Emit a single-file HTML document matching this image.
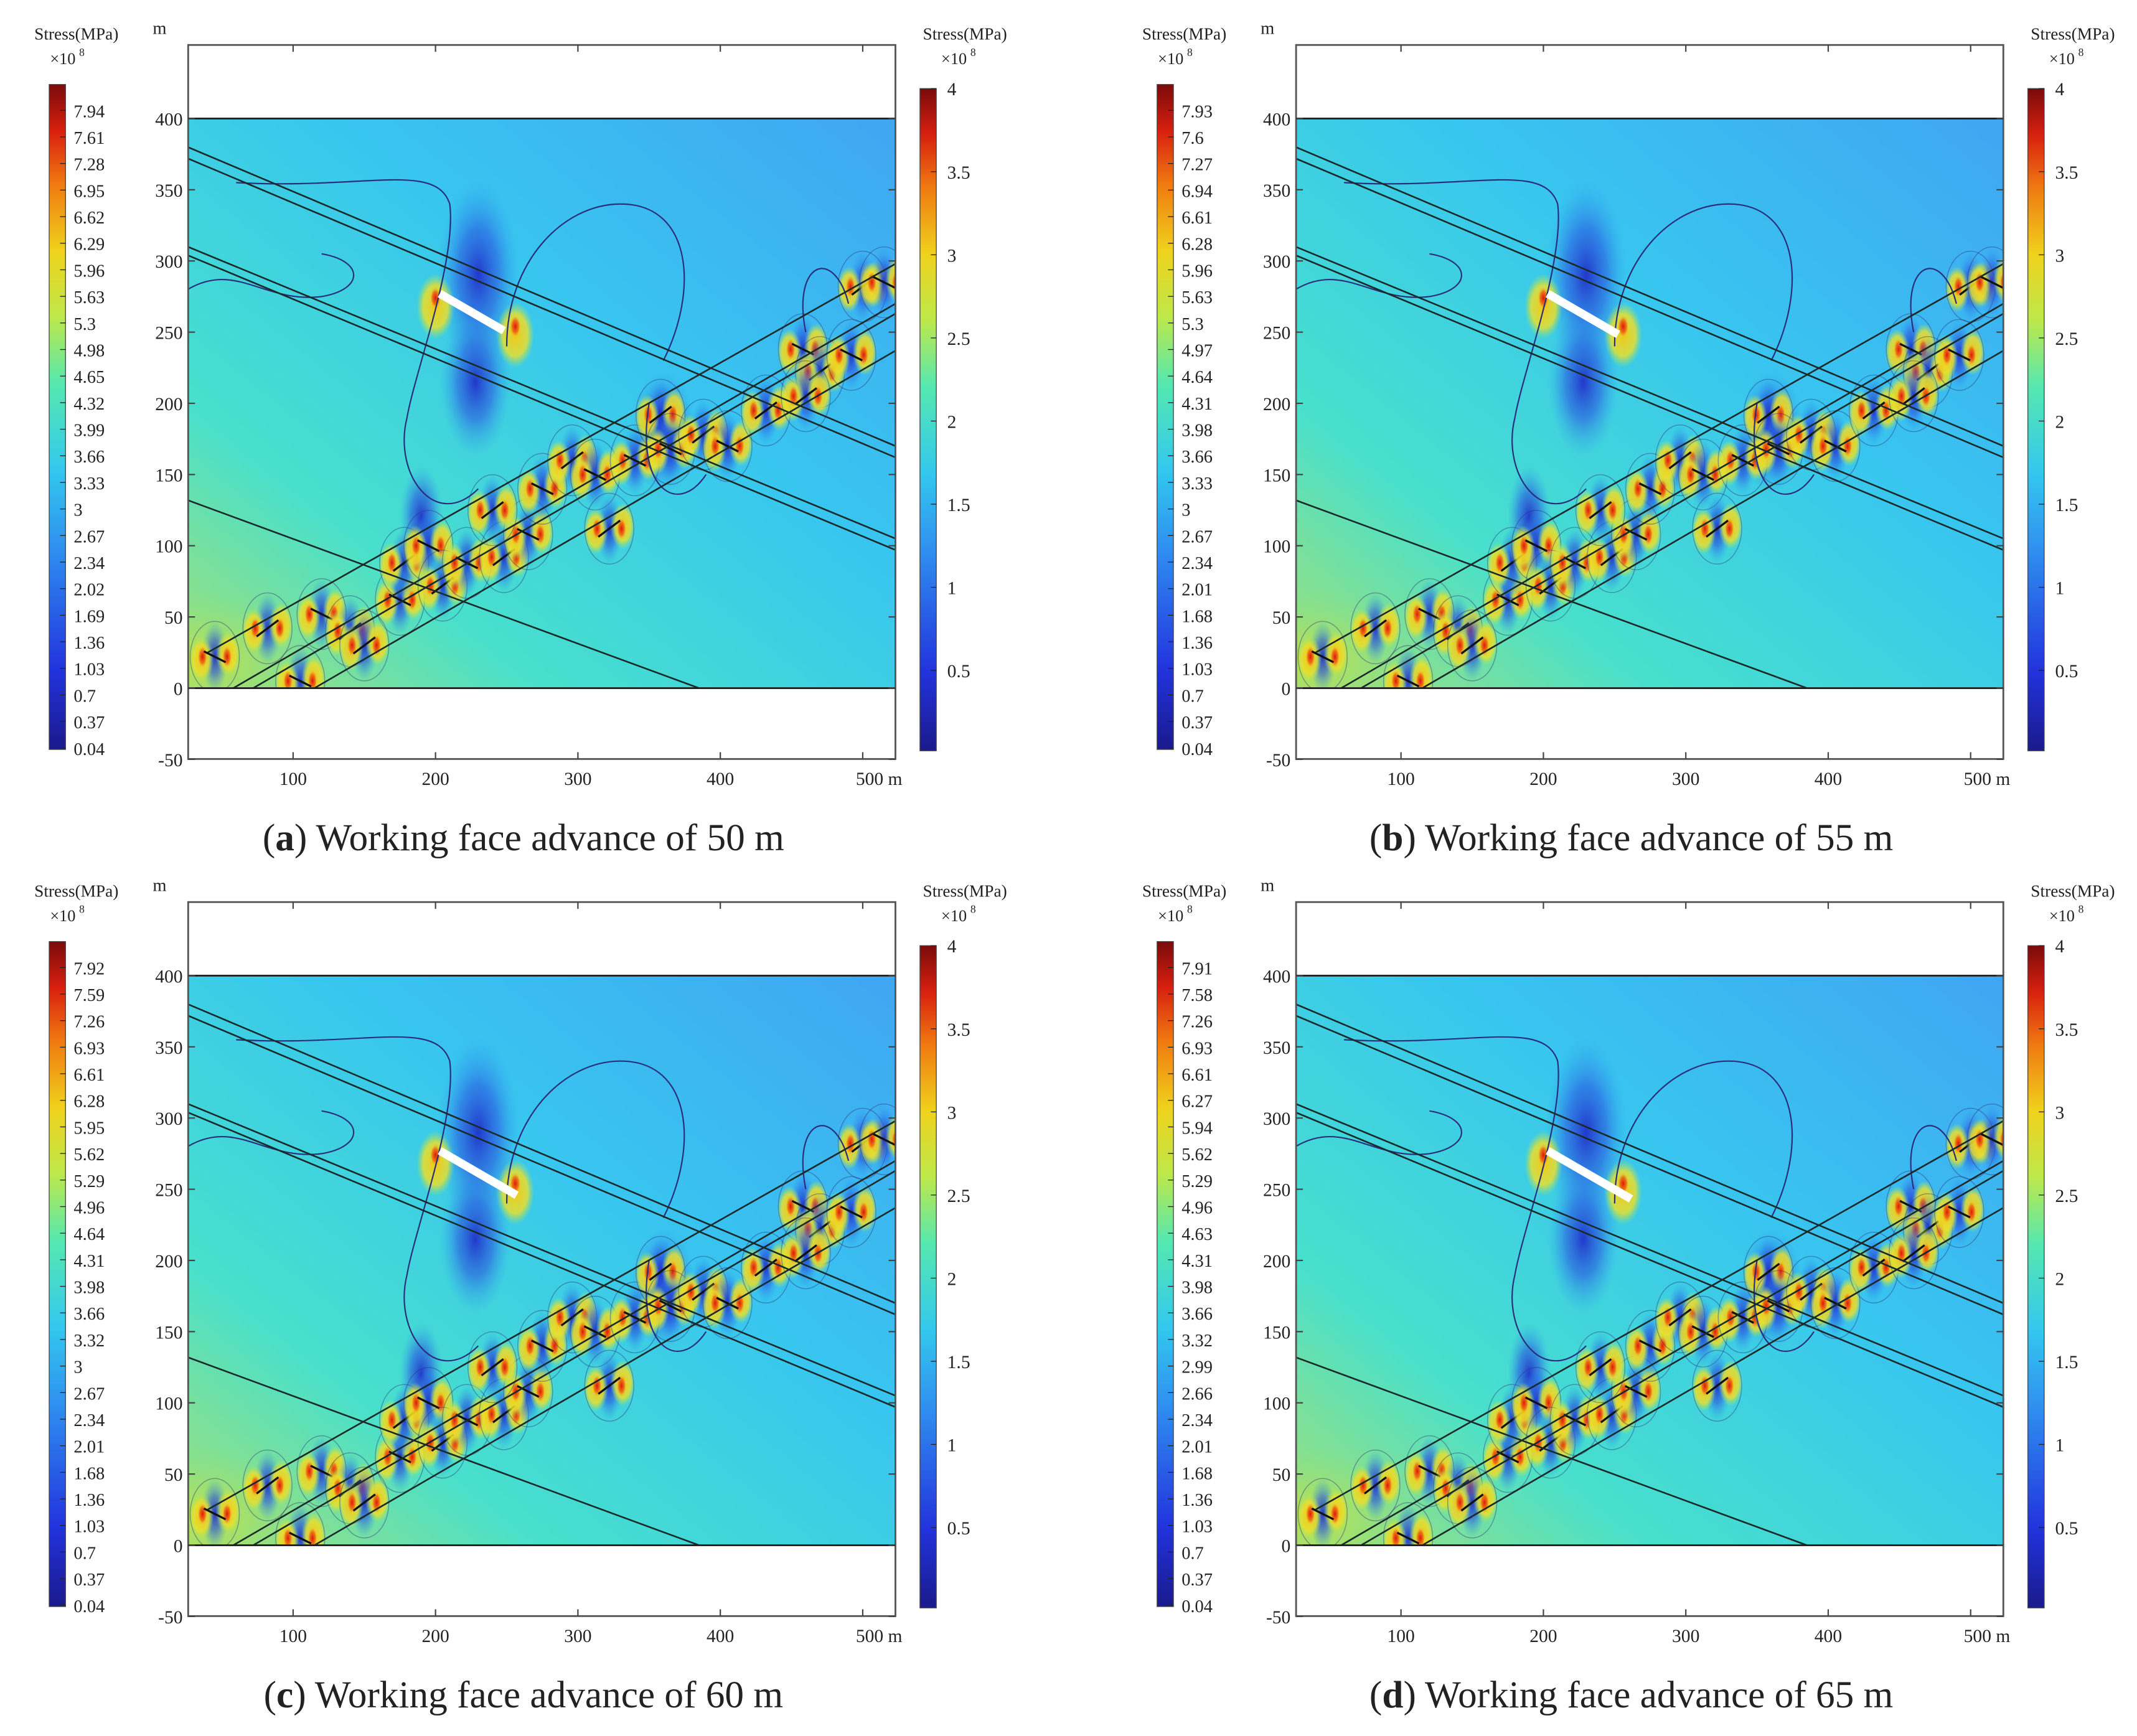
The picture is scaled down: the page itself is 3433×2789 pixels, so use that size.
<!DOCTYPE html>
<html><head><meta charset="utf-8">
<style>
html,body{margin:0;padding:0;background:#fff;}
svg{display:block;}
text{font-family:"Liberation Serif",serif;fill:#222;}
</style></head>
<body>
<svg id="fig" width="3433" height="2789" viewBox="0 0 1568 1274" xmlns="http://www.w3.org/2000/svg">
<defs>
<linearGradient id="jet" x1="0" y1="1" x2="0" y2="0">
<stop offset="0" stop-color="#1a1a8c"/><stop offset="0.12" stop-color="#2233dd"/><stop offset="0.3" stop-color="#2f8ef0"/><stop offset="0.42" stop-color="#33c8ee"/><stop offset="0.55" stop-color="#55e8b0"/><stop offset="0.65" stop-color="#bde84a"/><stop offset="0.75" stop-color="#f0d21c"/><stop offset="0.85" stop-color="#f07a10"/><stop offset="0.93" stop-color="#d8200f"/><stop offset="1" stop-color="#7a0a0a"/>
</linearGradient>
<linearGradient id="bg" x1="1" y1="0" x2="0" y2="1">
<stop offset="0" stop-color="#40a6f2"/><stop offset="0.4" stop-color="#38c6ef"/><stop offset="0.75" stop-color="#48e0cc"/><stop offset="1" stop-color="#a8e070"/>
</linearGradient>
<radialGradient id="gBlue"><stop offset="0" stop-color="#2030c8" stop-opacity="0.95"/><stop offset="0.5" stop-color="#2a5ae0" stop-opacity="0.6"/><stop offset="1" stop-color="#30a0f0" stop-opacity="0"/></radialGradient>
<radialGradient id="gYel"><stop offset="0" stop-color="#f2c818" stop-opacity="1"/><stop offset="0.65" stop-color="#e8e030" stop-opacity="0.85"/><stop offset="1" stop-color="#a0e860" stop-opacity="0"/></radialGradient>
<radialGradient id="gRed"><stop offset="0" stop-color="#d81a0c"/><stop offset="0.6" stop-color="#f06010" stop-opacity="0.8"/><stop offset="1" stop-color="#f0c020" stop-opacity="0"/></radialGradient>
<radialGradient id="gGrn"><stop offset="0" stop-color="#c8e040" stop-opacity="0.9"/><stop offset="1" stop-color="#70e0a0" stop-opacity="0"/></radialGradient>
</defs>
</svg>
<script>
const leftTicksA=[7.94,7.61,7.28,6.95,6.62,6.29,5.96,5.63,5.3,4.98,4.65,4.32,3.99,3.66,3.33,3,2.67,2.34,2.02,1.69,1.36,1.03,0.7,0.37,0.04];
const leftTicksB=[7.93,7.6,7.27,6.94,6.61,6.28,5.96,5.63,5.3,4.97,4.64,4.31,3.98,3.66,3.33,3,2.67,2.34,2.01,1.68,1.36,1.03,0.7,0.37,0.04];
const leftTicksC=[7.92,7.59,7.26,6.93,6.61,6.28,5.95,5.62,5.29,4.96,4.64,4.31,3.98,3.66,3.32,3,2.67,2.34,2.01,1.68,1.36,1.03,0.7,0.37,0.04];
const leftTicksD=[7.91,7.58,7.26,6.93,6.61,6.27,5.94,5.62,5.29,4.96,4.63,4.31,3.98,3.66,3.32,2.99,2.66,2.34,2.01,1.68,1.36,1.03,0.7,0.37,0.04];
const rightTicks=[4,3.5,3,2.5,2,1.5,1,0.5];
const xTicks=[100,200,300,400,500];
const yTicks=[400,350,300,250,200,150,100,50,0,-50];
const captionLetters=["a","b","c","d"];
const advances=[50,55,60,65];
const faceLen=[50,55,60,65];
const layerLines=[[26,380,523,170],[26,372,523,162],[26,310,523,105],[26,304,523,97],[26,132,385,0]];
const seamLines=[[40,25,523,298],[58,0,523,270],[72,0,523,263],[115,0,523,237]];
const clusters=[[45,22],[82,42],[120,52],[140,40],[175,62],[178,88],[195,100],[205,72],[222,88],[248,92],[265,108],[240,125],[275,140],[296,160],[312,150],[322,112],[340,160],[358,192],[365,168],[388,178],[405,170],[432,195],[458,238],[470,222],[492,234],[500,282],[515,285],[460,205],[105,5],[150,30]];
const NS="http://www.w3.org/2000/svg";
const svg=document.getElementById('fig');
function el(t,a,p){const e=document.createElementNS(NS,t);for(const k in a)e.setAttribute(k,a[k]);(p||svg).appendChild(e);return e;}
function txt(s,a,p){const e=el('text',a,p);e.textContent=s;return e;}
const ticksets=[leftTicksA,leftTicksB,leftTicksC,leftTicksD];
[[0,0],[813,0],[0,629],[813,629]].forEach((off,i)=>{
 const ox=off[0],oy=off[1];
 const g=el('g',{transform:`translate(${ox},${oy})`});
 
 
 const X=v=>215+(v-100)*1.045, Y=v=>505-v*1.045;
 const cp=el('clipPath',{id:'clip'+i},g);el('rect',{x:138,y:87,width:519,height:418},cp);
 const field=el('g',{'clip-path':`url(#clip${i})`},g);
 
 
 el('rect',{x:138,y:87,width:519,height:418,fill:'url(#bg)'},field);
 el('ellipse',{cx:X(40),cy:Y(20),rx:90,ry:60,fill:'url(#gGrn)'},field);
 el('ellipse',{cx:X(230),cy:Y(290),rx:30,ry:70,fill:'url(#gBlue)'},field);
 el('ellipse',{cx:X(228),cy:Y(215),rx:26,ry:55,fill:'url(#gBlue)'},field);
 el('ellipse',{cx:X(360),cy:Y(180),rx:24,ry:45,fill:'url(#gBlue)'},field);
 el('ellipse',{cx:X(190),cy:Y(120),rx:16,ry:38,fill:'url(#gBlue)'},field);
 [[200,268],[256,248]].forEach(p=>{el('ellipse',{cx:X(p[0]),cy:Y(p[1]),rx:14,ry:24,fill:'url(#gYel)'},field);el('ellipse',{cx:X(p[0]),cy:Y(p[1]+6),rx:4,ry:8,fill:'url(#gRed)'},field);});
 clusters.forEach((c,j)=>{
  el('ellipse',{cx:X(c[0]),cy:Y(c[1]),rx:10,ry:26,fill:'url(#gBlue)'},field);
  el('ellipse',{cx:X(c[0])-10,cy:Y(c[1])+2,rx:9,ry:17,fill:'url(#gYel)'},field);
  el('ellipse',{cx:X(c[0])+10,cy:Y(c[1])-2,rx:9,ry:17,fill:'url(#gYel)'},field);
  el('ellipse',{cx:X(c[0])-9,cy:Y(c[1]),rx:3.5,ry:8,fill:'url(#gRed)'},field);
  el('ellipse',{cx:X(c[0])+9,cy:Y(c[1]),rx:3.5,ry:8,fill:'url(#gRed)'},field);
  el('line',{x1:X(c[0])-8,y1:Y(c[1])+(j%2?6:-4),x2:X(c[0])+8,y2:Y(c[1])+(j%2?-6:4),stroke:'#111',
   'stroke-width':1.5},field);
  el('ellipse',{cx:X(c[0]),cy:Y(c[1]),rx:18,ry:26,fill:'none',stroke:'#2a2f7a','stroke-width':0.7,opacity:0.4},field);
 });
 [`M${X(60)},${Y(355)} C${X(150)},${Y(350)} ${X(200)},${Y(370)} ${X(210)},${Y(340)} C${X(215)},${Y(300)} ${X(185)},${Y(220)} ${X(180)},${Y(190)} C${X(170)},${Y(150)} ${X(200)},${Y(110)} ${X(230)},${Y(140)}`,
  `M${X(250)},${Y(240)} C${X(250)},${Y(300)} ${X(290)},${Y(340)} ${X(330)},${Y(340)} C${X(380)},${Y(340)} ${X(385)},${Y(280)} ${X(360)},${Y(230)}`,
  `M${X(26)},${Y(280)} C${X(60)},${Y(300)} ${X(80)},${Y(270)} ${X(120)},${Y(275)} C${X(150)},${Y(280)} ${X(150)},${Y(300)} ${X(120)},${Y(305)}`,
  `M${X(350)},${Y(200)} C${X(340)},${Y(140)} ${X(370)},${Y(120)} ${X(390)},${Y(150)}`,
  `M${X(460)},${Y(250)} C${X(450)},${Y(300)} ${X(480)},${Y(310)} ${X(490)},${Y(270)}`].forEach(d=>el('path',{d,fill:'none',stroke:'#2a2f7a','stroke-width':1},field));
 layerLines.concat(seamLines).forEach(l=>el('line',{x1:X(l[0]),y1:Y(l[1]),x2:X(l[2]),y2:Y(l[3]),stroke:'#1a2a2a','stroke-width':1.2},field));
 const wf=el('line',{x1:X(203),y1:Y(277),x2:X(203+faceLen[i]*0.9),y2:Y(277-faceLen[i]*0.52),stroke:'#fff','stroke-width':6},g);
 
 
 el('rect',{x:138,y:33,width:519,height:524,fill:'none',stroke:'#555','stroke-width':1.3},g);
 el('line',{x1:138,y1:87,x2:657,y2:87,stroke:'#222','stroke-width':1.3},g);
 el('line',{x1:138,y1:505,x2:657,y2:505,stroke:'#222','stroke-width':1.3},g);
 yTicks.forEach(v=>{el('line',{x1:138,y1:Y(v),x2:143,y2:Y(v),stroke:'#444'},g);el('line',{x1:652,y1:Y(v),x2:657,y2:Y(v),stroke:'#444'},g);
  const t=txt(String(v),{x:134,y:Y(v)+5,'text-anchor':'end','font-size':13.5},g);});
 xTicks.forEach(v=>{el('line',{x1:X(v),y1:557,x2:X(v),y2:552,stroke:'#444'},g);el('line',{x1:X(v),y1:33,x2:X(v),y2:38,stroke:'#444'},g);
  const t=txt(v===500?'500 m':String(v),{x:v===500?X(v)+12:X(v),y:576,'text-anchor':'middle','font-size':13.5},g);});
 txt('m',{x:112,y:25,'font-size':13},g);
 txt('Stress(MPa)',{x:56,y:29,'text-anchor':'middle','font-size':12.5},g);
 txt('×10',{x:46,y:47,'text-anchor':'middle','font-size':12},g);txt('8',{x:58,y:41,'font-size':8},g);
 const lb=el('rect',{x:36,y:62,width:12,height:488,fill:'url(#jet)',stroke:'#444','stroke-width':0.6},g);
 
 ticksets[i].forEach((v,k)=>{const y=81+k*19.5;el('line',{x1:44,y1:y,x2:48,y2:y,stroke:'#222','stroke-width':0.6},g);txt(String(v),{x:54,y:y+5,'font-size':13},g);});
 txt('Stress(MPa)',{x:708,y:29,'text-anchor':'middle','font-size':12.5},g);
 txt('×10',{x:700,y:47,'text-anchor':'middle','font-size':12},g);txt('8',{x:712,y:41,'font-size':8},g);
 const rb=el('rect',{x:675,y:65,width:12,height:486,fill:'url(#jet)',stroke:'#444','stroke-width':0.6},g);
 
 rightTicks.forEach(v=>{const y=553-v*122;el('line',{x1:683,y1:y,x2:687,y2:y,stroke:'#222','stroke-width':0.6},g);txt(String(v),{x:695,y:y+5,'font-size':13.5},g);});
 const cap=txt('',{x:384,y:624,'text-anchor':'middle','font-size':28},g);
 
 const s1=el('tspan',{},cap);s1.textContent='(';
 const s2=el('tspan',{'font-weight':'bold'},cap);s2.textContent=captionLetters[i];
 const s3=el('tspan',{},cap);s3.textContent=') Working face advance of '+advances[i]+' m';
});
</script>
</body></html>
